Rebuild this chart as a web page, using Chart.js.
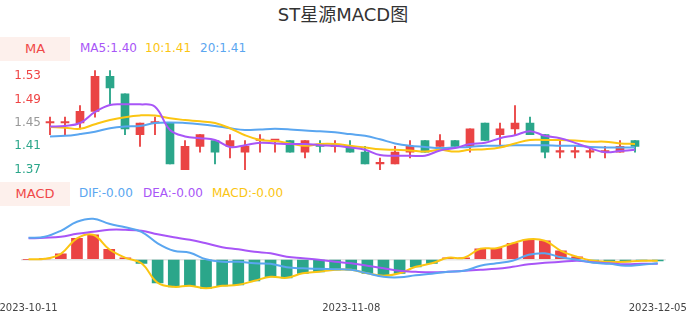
<!DOCTYPE html>
<html><head><meta charset="utf-8">
<script src="https://cdn.jsdelivr.net/npm/chart.js@4/dist/chart.umd.min.js"></script>
<style>
body{margin:0;width:686px;height:320px;position:relative;background:#fff;font-family:"DejaVu Sans","Noto Sans CJK SC",sans-serif;overflow:hidden}
#title{position:absolute;left:0;top:4px;width:686px;text-align:center;font-size:18px;color:#333;line-height:22px}
.box{position:absolute;left:0;width:70px;height:24px;background:#fdf0ec;color:#f04848;font-size:13px;line-height:24px;text-align:center}
.lg{position:absolute;font-size:12px;line-height:14px;white-space:nowrap}
canvas{position:absolute;left:0}
#c1{top:60px}
#c2{top:200px}
</style></head>
<body>
<div id="title">ST星源MACD图</div>
<div class="box" style="top:37px">MA</div>
<div class="lg" style="left:80px;top:41px;color:#a855f7">MA5:1.40</div>
<div class="lg" style="left:145px;top:41px;color:#fbc512">10:1.41</div>
<div class="lg" style="left:200px;top:41px;color:#5aa6f0">20:1.41</div>
<div class="box" style="top:182px">MACD</div>
<div class="lg" style="left:79px;top:186px;color:#5aa6f0">DIF:-0.00</div>
<div class="lg" style="left:143px;top:186px;color:#a855f7">DEA:-0.00</div>
<div class="lg" style="left:212px;top:186px;color:#fbc512">MACD:-0.00</div>
<canvas id="c1" width="686" height="120"></canvas>
<canvas id="c2" width="686" height="120"></canvas>
<script>
const dates = ['2023-10-11','2023-10-12','2023-10-13','2023-10-16','2023-10-17','2023-10-18','2023-10-19','2023-10-20','2023-10-23','2023-10-24','2023-10-25','2023-10-26','2023-10-27','2023-10-30','2023-10-31','2023-11-01','2023-11-02','2023-11-03','2023-11-06','2023-11-07','2023-11-08','2023-11-09','2023-11-10','2023-11-13','2023-11-14','2023-11-15','2023-11-16','2023-11-17','2023-11-20','2023-11-21','2023-11-22','2023-11-23','2023-11-24','2023-11-27','2023-11-28','2023-11-29','2023-11-30','2023-12-01','2023-12-04','2023-12-05'];
const openP  = [1.45,1.45,1.45,1.47,1.53,1.50,1.43,1.45,1.45,1.37,1.41,1.42,1.41,1.40,1.42,1.42,1.42,1.40,1.41,1.41,1.41,1.40,1.38,1.38,1.40,1.42,1.41,1.42,1.41,1.45,1.43,1.44,1.45,1.43,1.40,1.40,1.40,1.40,1.40,1.42];
const closeP = [1.45,1.45,1.47,1.53,1.51,1.44,1.45,1.45,1.38,1.41,1.43,1.40,1.42,1.41,1.42,1.42,1.40,1.42,1.41,1.41,1.40,1.38,1.38,1.40,1.41,1.40,1.42,1.41,1.44,1.42,1.44,1.45,1.43,1.40,1.40,1.40,1.40,1.40,1.41,1.41];
const highP  = [1.46,1.46,1.48,1.54,1.54,1.50,1.45,1.46,1.45,1.42,1.43,1.42,1.43,1.42,1.43,1.42,1.42,1.42,1.42,1.42,1.42,1.41,1.39,1.41,1.42,1.42,1.43,1.42,1.44,1.45,1.45,1.48,1.46,1.43,1.42,1.41,1.41,1.41,1.42,1.42];
const lowP   = [1.43,1.43,1.44,1.46,1.48,1.43,1.41,1.43,1.38,1.37,1.40,1.38,1.39,1.37,1.40,1.40,1.40,1.39,1.40,1.40,1.40,1.38,1.37,1.38,1.39,1.40,1.41,1.41,1.40,1.42,1.41,1.43,1.43,1.39,1.39,1.39,1.39,1.39,1.40,1.40];
const ma5  = [1.444,1.445,1.450,1.469,1.481,1.482,1.482,1.478,1.438,1.427,1.424,1.421,1.409,1.412,1.416,1.415,1.414,1.414,1.412,1.411,1.408,1.404,1.395,1.394,1.394,1.394,1.403,1.407,1.414,1.416,1.424,1.429,1.436,1.428,1.424,1.416,1.407,1.400,1.402,1.404];
const ma10 = [1.443,1.442,1.440,1.448,1.455,1.460,1.463,1.463,1.458,1.455,1.453,1.450,1.441,1.429,1.421,1.419,1.415,1.411,1.414,1.414,1.411,1.408,1.405,1.404,1.403,1.401,1.404,1.401,1.404,1.405,1.408,1.415,1.421,1.421,1.421,1.420,1.418,1.418,1.415,1.414];
const ma20 = [1.427,1.428,1.431,1.435,1.441,1.444,1.445,1.450,1.451,1.450,1.448,1.445,1.441,1.438,1.439,1.440,1.439,1.437,1.436,1.434,1.431,1.428,1.422,1.415,1.411,1.409,1.407,1.408,1.409,1.411,1.411,1.412,1.412,1.412,1.411,1.411,1.409,1.408,1.408,1.408];
const dif  = [0.0043,0.0045,0.0057,0.0075,0.0081,0.0071,0.0064,0.0055,0.0032,0.0017,0.0013,0.0000,-0.0005,-0.0005,-0.0008,-0.0009,-0.0016,-0.0018,-0.0019,-0.0020,-0.0021,-0.0028,-0.0035,-0.0036,-0.0032,-0.0029,-0.0025,-0.0023,-0.0013,-0.0008,-0.0003,0.0009,0.0012,0.0004,-0.0001,-0.0007,-0.0009,-0.0013,-0.0011,-0.0008];
const dea  = [0.0042,0.0043,0.0045,0.0051,0.0055,0.0059,0.0059,0.0057,0.0050,0.0044,0.0039,0.0032,0.0024,0.0020,0.0015,0.0012,0.0005,0.0002,-0.0001,-0.0005,-0.0008,-0.0013,-0.0018,-0.0023,-0.0025,-0.0026,-0.0025,-0.0023,-0.0021,-0.0019,-0.0015,-0.0010,-0.0007,-0.0005,-0.0003,-0.0006,-0.0008,-0.0010,-0.0009,-0.0009];
const macd = [0.0000,0.0001,0.0011,0.0042,0.0049,0.0020,0.0003,-0.0008,-0.0047,-0.0055,-0.0053,-0.0058,-0.0053,-0.0051,-0.0043,-0.0035,-0.0037,-0.0028,-0.0025,-0.0021,-0.0021,-0.0028,-0.0033,-0.0028,-0.0015,-0.0008,0.0003,0.0003,0.0021,0.0022,0.0032,0.0040,0.0037,0.0017,0.0005,-0.0003,-0.0005,-0.0005,-0.0003,-0.0003];
const priceTicks = [1.37,1.41,1.45,1.49,1.53];
const xTickLabels = ['2023-10-11','2023-11-08','2023-12-05'];

const RED = '#ea4444', GREEN = '#2ba68a', PURPLE = '#a855f7', YELLOW = '#fbc512', BLUE = '#5aa6f0';
Chart.defaults.font.family = '"DejaVu Sans", "Noto Sans CJK SC", sans-serif';
Chart.defaults.animation = false;

const candleColors = openP.map((o, i) => {
  const c = closeP[i];
  if (c > o) return RED;
  if (c < o) return GREEN;
  return (i === 0 || c >= closeP[i - 1]) ? RED : GREEN;
});

new Chart(document.getElementById('c1'), {
  type: 'bar',
  data: {
    labels: dates,
    datasets: [
      { type: 'line', data: ma5, borderColor: PURPLE, borderWidth: 2, pointRadius: 0, tension: 0.4, order: 1 },
      { type: 'line', data: ma10, borderColor: YELLOW, borderWidth: 2, pointRadius: 0, tension: 0.4, order: 1 },
      { type: 'line', data: ma20, borderColor: BLUE, borderWidth: 2, pointRadius: 0, tension: 0.4, order: 1 },
      { data: openP.map((o, i) => [o, closeP[i]]), backgroundColor: candleColors, barThickness: 8, minBarLength: 1.5, grouped: false, order: 2 },
      { data: lowP.map((l, i) => [l, highP[i]]), backgroundColor: candleColors, barThickness: 1.2, grouped: false, order: 3 }
    ]
  },
  options: {
    responsive: false,
    layout: { padding: { left: 0, right: 43.5, top: 0, bottom: 0 } },
    plugins: { legend: { display: false }, tooltip: { enabled: false } },
    scales: {
      x: { display: false, offset: true },
      y: {
        min: 1.3523, max: 1.558,
        afterFit: s => { s.width = 42.5; s.paddingTop = 0; s.paddingBottom = 0; },
        afterBuildTicks: s => { s.ticks = priceTicks.map(v => ({ value: v })); },
        grid: { display: false, drawTicks: false },
        border: { display: false },
        ticks: {
          padding: 1.5,
          font: { size: 12 },
          callback: v => Number(v).toFixed(2),
          color: ctx => ctx.tick.value > 1.455 ? '#ef4444' : (ctx.tick.value < 1.445 ? GREEN : '#999')
        }
      }
    }
  }
});

new Chart(document.getElementById('c2'), {
  type: 'bar',
  data: {
    labels: dates,
    datasets: [
      { type: 'line', data: dif, borderColor: BLUE, borderWidth: 2, pointRadius: 0, tension: 0.4, order: 1 },
      { type: 'line', data: dea, borderColor: PURPLE, borderWidth: 2, pointRadius: 0, tension: 0.4, order: 1 },
      { type: 'line', data: macd, borderColor: YELLOW, borderWidth: 2, pointRadius: 0, tension: 0.4, order: 1 },
      { data: macd, backgroundColor: macd.map(v => v >= 0 ? RED : GREEN), barThickness: 11, order: 2 }
    ]
  },
  options: {
    responsive: false,
    layout: { padding: { left: 20.5, right: 20.2, top: 0, bottom: 0 } },
    plugins: { legend: { display: false }, tooltip: { enabled: false } },
    scales: {
      x: {
        offset: true,
        afterFit: s => { s.height = 24; s.paddingLeft = 0; s.paddingRight = 0; },
        grid: { display: false, drawTicks: false },
        border: { display: false },
        ticks: {
          autoSkip: false, maxRotation: 0, padding: 6,
          font: { size: 10 }, color: '#444',
          callback: (v, i) => xTickLabels.includes(dates[i]) ? dates[i] : ''
        }
      },
      y: {
        min: -0.00734, max: 0.01186,
        afterFit: s => { s.width = 0; s.paddingTop = 0; s.paddingBottom = 0; },
        afterBuildTicks: s => { s.ticks = [{ value: 0 }]; },
        grid: { drawTicks: false, color: '#e4e4e4', lineWidth: 1.5 },
        border: { display: false },
        ticks: { display: false }
      }
    }
  }
});
</script>
</body></html>
